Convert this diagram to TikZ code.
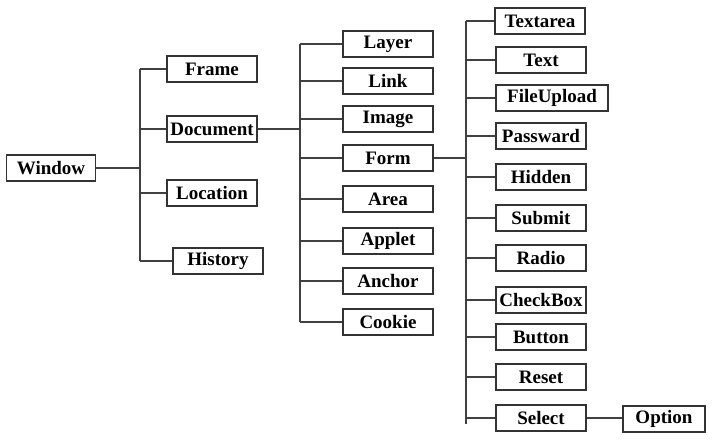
\documentclass[tikz,border=0pt]{standalone}
\usepackage{fontspec}
\setmainfont{Liberation Serif}
\usetikzlibrary{positioning}

\begin{document}
\begin{tikzpicture}[x=1pt,y=-1pt,
    box/.style={draw=black!80,line width=1.3pt,fill=white,minimum width=90pt,
      minimum height=26pt,inner sep=1pt,font=\fontsize{19}{19}\selectfont\bfseries},
    wire/.style={draw=black!75,line width=1.1pt}]
      \useasboundingbox (0,0) rectangle (720,441);
      \node[box,minimum width=89pt] (win) at (51,168) {Window};
      \node[box] (frame) at (212,69) {Frame};
      \node[box] (doc) at (212,129) {Document};
      \node[box] (loc) at (212,193) {Location};
      \node[box] (hist) at (218,261) {History};
      \node[box] (layer) at (388,44) {Layer};
      \node[box] (link) at (388,81) {Link};
      \node[box] (image) at (388,119) {Image};
      \node[box] (form) at (388,158) {Form};
      \node[box] (area) at (388,199) {Area};
      \node[box] (applet) at (388,241) {Applet};
      \node[box] (anchor) at (388,281) {Anchor};
      \node[box] (cookie) at (388,322) {Cookie};
      \node[box] (textarea) at (540,21) {Textarea};
      \node[box] (text) at (541,60) {Text};
      \node[box,minimum width=112pt] (upload) at (552,98) {FileUpload};
      \node[box] (passw) at (541,136) {Passward};
      \node[box] (hidden) at (541,177) {Hidden};
      \node[box] (submit) at (541,218) {Submit};
      \node[box] (radio) at (541,258) {Radio};
      \node[box] (check) at (541,300) {CheckBox};
      \node[box] (button) at (541,337) {Button};
      \node[box] (reset) at (541,377) {Reset};
      \node[box] (select) at (541,418) {Select};
      \node[box,minimum width=82pt] (option) at (664,419) {Option};
      \coordinate (bar1) at (140,0);
      \coordinate (bar2) at (300,0);
      \coordinate (bar3) at (466,0);
      % level 1
      \path[wire] (win.east) -- (win.east -| bar1)
        (frame.west -| bar1) -- (hist.west -| bar1);
      \foreach \n in {frame,doc,loc,hist}
        \path[wire] (\n.west) -- (\n.west -| bar1);
      % level 2
      \path[wire] (doc.east) -- (doc.east -| bar2)
        (layer.west -| bar2) -- (cookie.west -| bar2);
      \foreach \n in {layer,link,image,form,area,applet,anchor,cookie}
        \path[wire] (\n.west) -- (\n.west -| bar2);
      % level 3
      \path[wire] (form.east) -- (form.east -| bar3)
        (textarea.west -| bar3) -- ([yshift=-6pt]select.west -| bar3);
      \foreach \n in {textarea,text,upload,passw,hidden,submit,radio,check,button,reset,select}
        \path[wire] (\n.west) -- (\n.west -| bar3);
      \path[wire] (select.east) -- (select.east -| option.west);
\end{tikzpicture}
\end{document}
